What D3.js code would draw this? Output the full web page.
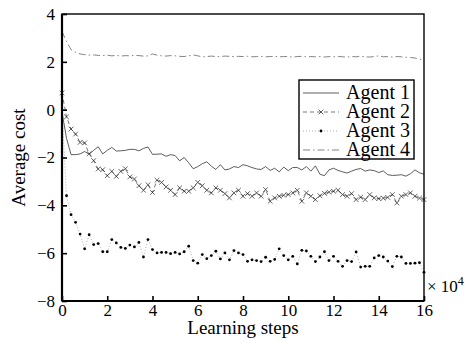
<!DOCTYPE html>
<html>
<head>
<meta charset="utf-8">
<script src="https://cdn.jsdelivr.net/npm/d3@7"></script>
<style>
  body { margin: 0; background: #fff; }
  svg text { font-family: "Liberation Serif", "Times New Roman", serif; fill: #000; }
</style>
</head>
<body>
<div id="chart"></div>
<script>
// Average cost per agent, sampled every 0.2 x 10^4 learning steps (0..16)
const stepSize = 0.2;
const serif = '"Liberation Serif", "Times New Roman", serif';

const agent1 = [
  -0.10, -1.20, -1.88, -1.88, -1.85, -1.75, -1.86, -1.70, -1.55, -1.85,
  -1.70, -1.58, -1.73, -1.72, -1.70, -1.66, -1.66, -1.72, -1.62, -1.56,
  -1.87, -1.86, -1.85, -1.95, -1.88, -1.92, -2.14, -2.00, -2.22, -2.47,
  -2.38, -2.26, -2.18, -2.36, -2.50, -2.30, -2.52, -2.48, -2.38, -2.42,
  -2.30, -2.35, -2.42, -2.48, -2.50, -2.38, -2.54, -2.45, -2.60, -2.40,
  -2.55, -2.42, -2.42, -2.52, -2.38, -2.57, -2.35, -2.70, -2.76, -2.52,
  -2.45, -2.54, -2.60, -2.65, -2.57, -2.50, -2.46, -2.57, -2.52, -2.55,
  -2.63, -2.56, -2.72, -2.75, -2.74, -2.72, -2.78, -2.68, -2.52, -2.64,
  -2.70
];

const agent2 = [
   0.70, -0.30, -0.81, -1.02, -1.37, -1.39, -1.84, -2.13, -2.48, -2.51,
  -2.76, -2.58, -2.79, -2.58, -2.47, -2.81, -2.90, -3.18, -3.37, -3.14,
  -3.46, -2.95, -3.04, -3.23, -3.37, -3.55, -3.27, -3.41, -3.41, -3.27,
  -3.04, -3.18, -3.37, -3.48, -3.27, -3.37, -3.51, -3.69, -3.48, -3.37,
  -3.62, -3.51, -3.62, -3.48, -3.62, -3.34, -3.83, -3.69, -3.62, -3.58,
  -3.55, -3.48, -3.37, -3.83, -3.48, -3.62, -3.76, -3.60, -3.50, -3.45,
  -3.41, -3.37, -3.55, -3.62, -3.51, -3.76, -3.66, -3.76, -3.55, -3.69,
  -3.72, -3.70, -3.67, -3.55, -3.90, -3.62, -3.55, -3.48, -3.62, -3.70,
  -3.76
];

const agent3 = [
   0.00, -3.60, -4.39, -4.71, -5.20, -5.82, -5.23, -5.64, -5.60, -5.94,
  -5.94, -5.43, -5.57, -5.76, -5.80, -5.66, -5.74, -5.55, -6.16, -5.43,
  -5.85, -5.99, -5.97, -5.97, -6.02, -5.97, -6.03, -5.94, -5.71, -6.31,
  -6.42, -6.06, -6.23, -6.10, -5.92, -6.24, -5.99, -6.28, -5.89, -5.99,
  -6.06, -6.34, -6.28, -6.31, -6.35, -6.17, -6.34, -6.26, -5.82, -6.10,
  -6.28, -6.13, -6.45, -5.88, -5.91, -6.13, -6.35, -6.16, -5.94, -6.31,
  -6.13, -6.34, -6.55, -6.31, -6.35, -5.95, -6.58, -6.55, -6.55, -6.20,
  -6.10, -6.16, -6.33, -6.56, -6.13, -6.16, -6.43, -6.43, -6.42, -6.40,
  -6.80
];

const agent4 = [
   3.27, 2.85, 2.51, 2.40, 2.33, 2.30, 2.28, 2.29, 2.27, 2.26,
   2.28, 2.25, 2.27, 2.24, 2.26, 2.25, 2.27, 2.26, 2.24, 2.25,
   2.33, 2.28, 2.25, 2.24, 2.26, 2.25, 2.23, 2.22, 2.25, 2.29,
   2.25, 2.21, 2.22, 2.24, 2.22, 2.22, 2.24, 2.23, 2.22, 2.23,
   2.22, 2.23, 2.21, 2.22, 2.23, 2.21, 2.22, 2.23, 2.21, 2.22,
   2.22, 2.20, 2.22, 2.23, 2.21, 2.22, 2.21, 2.22, 2.20, 2.22,
   2.21, 2.23, 2.21, 2.20, 2.22, 2.21, 2.24, 2.21, 2.20, 2.22,
   2.25, 2.21, 2.22, 2.20, 2.22, 2.21, 2.19, 2.18, 2.16, 2.12,
   2.06
];

const seriesNames = ['Agent 1', 'Agent 2', 'Agent 3', 'Agent 4'];
const xTicks = [0, 2, 4, 6, 8, 10, 12, 14, 16];
const yTicks = [-8, -6, -4, -2, 0, 2, 4];

const W = 470, H = 342;
const margin = { top: 14, right: 46, bottom: 41, left: 62 };
const width = W - margin.left - margin.right;
const height = H - margin.top - margin.bottom;

const svg = d3.select('#chart').append('svg')
  .attr('width', W).attr('height', H)
  .attr('font-family', serif);
const g = svg.append('g')
  .attr('transform', `translate(${margin.left},${margin.top})`);

const x = d3.scaleLinear().domain([0, 16]).range([0, width]);
const y = d3.scaleLinear().domain([-8, 4]).range([height, 0]);

const toPoints = arr => arr.map((v, i) => ({ x: i * stepSize, y: v }));
const line = d3.line().x(d => x(d.x)).y(d => y(d.y));

const styles = [
  { stroke: '#333', width: 0.8, dash: null },
  { stroke: '#555', width: 0.8, dash: '4,3' },
  { stroke: '#999', width: 0.8, dash: '1,2' },
  { stroke: '#666', width: 0.8, dash: '7,3,1.5,3' }
];
const data = [agent1, agent2, agent3, agent4].map(toPoints);

data.forEach((pts, k) => {
  g.append('path')
    .datum(pts)
    .attr('fill', 'none')
    .attr('stroke', styles[k].stroke)
    .attr('stroke-width', styles[k].width)
    .attr('stroke-dasharray', styles[k].dash)
    .attr('d', line);
});

// Agent 2 cross markers
const cross = d3.symbol().type(d3.symbolX).size(16);
g.selectAll('.m2').data(data[1]).enter().append('path')
  .attr('transform', d => `translate(${x(d.x)},${y(d.y)})`)
  .attr('d', cross)
  .attr('fill', 'none')
  .attr('stroke', '#222')
  .attr('stroke-width', 0.7);

// Agent 3 dot markers
g.selectAll('.m3').data(data[2].slice(1)).enter().append('circle')
  .attr('cx', d => x(d.x))
  .attr('cy', d => y(d.y))
  .attr('r', 1.4)
  .attr('fill', '#000');

// Axes with inward ticks
const xAxis = g.append('g')
  .attr('transform', `translate(0,${height})`)
  .call(d3.axisBottom(x).tickValues(xTicks).tickSize(-5).tickPadding(3).tickFormat(d3.format('d')));
const yAxis = g.append('g')
  .call(d3.axisLeft(y).tickValues(yTicks).tickSize(-5).tickPadding(7)
    .tickFormat(d => d < 0 ? '\u2212' + Math.abs(d) : d));
[xAxis, yAxis].forEach(a => {
  a.attr('font-family', serif);
  a.select('.domain').remove();
  a.selectAll('line').attr('stroke', '#000').attr('stroke-width', 1.6);
  a.selectAll('text').style('font-size', '17px').attr('fill', '#000');
});

// Frame
g.append('rect')
  .attr('width', width).attr('height', height)
  .attr('fill', 'none').attr('stroke', '#000').attr('stroke-width', 1.4);
g.append('line').attr('x1', 0).attr('x2', 0).attr('y1', 0).attr('y2', height)
  .attr('stroke', '#000').attr('stroke-width', 2.2);
g.append('line').attr('x1', 0).attr('x2', width).attr('y1', height).attr('y2', height)
  .attr('stroke', '#000').attr('stroke-width', 2.2);

// Axis labels
svg.append('text')
  .attr('x', margin.left + width / 2)
  .attr('y', 334)
  .attr('text-anchor', 'middle')
  .style('font-size', '19px')
  .text('Learning steps');

svg.append('text')
  .attr('transform', `translate(25,${margin.top + height / 2}) rotate(-90)`)
  .attr('text-anchor', 'middle')
  .style('font-size', '19px')
  .text('Average cost');

// x10^4 multiplier
const mult = svg.append('text')
  .attr('x', 427).attr('y', 292)
  .style('font-size', '17px');
mult.append('tspan').text('\u00d7 10');
mult.append('tspan').attr('dy', -7).style('font-size', '12px').text('4');

// Legend
const lg = svg.append('g').attr('transform', 'translate(299,80)');
lg.append('rect').attr('width', 115).attr('height', 79)
  .attr('fill', '#fff').attr('stroke', '#000').attr('stroke-width', 1.4);
seriesNames.forEach((name, k) => {
  const ly = 13 + k * 19;
  lg.append('line')
    .attr('x1', 4).attr('x2', 40).attr('y1', ly).attr('y2', ly)
    .attr('stroke', styles[k].stroke)
    .attr('stroke-width', styles[k].width)
    .attr('stroke-dasharray', styles[k].dash);
  if (k === 1) {
    lg.append('path').attr('transform', `translate(22,${ly})`).attr('d', cross)
      .attr('fill', 'none').attr('stroke', '#222').attr('stroke-width', 0.7);
  }
  if (k === 2) {
    lg.append('circle').attr('cx', 22).attr('cy', ly).attr('r', 1.4).attr('fill', '#000');
  }
  lg.append('text')
    .attr('x', 111).attr('y', ly + 6)
    .attr('text-anchor', 'end')
    .style('font-size', '20px')
    .text(name);
});
</script>
</body>
</html>
